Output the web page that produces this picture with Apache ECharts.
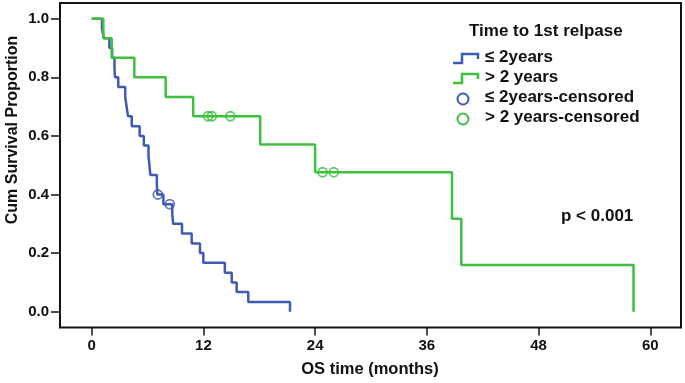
<!DOCTYPE html>
<html>
<head>
    <meta charset="utf-8">
    <title>OS by time to 1st relapse</title>
    <script src="https://cdn.jsdelivr.net/npm/echarts@6/dist/echarts.min.js"></script>
    <style>
        body, html { margin: 0; padding: 0; background: #fff; }
        #main { width: 685px; height: 383px; }
    </style>
</head>
<body>
    <div id="main"></div>
    <script>
        // Kaplan-Meier steps: time (months) and survival after each drop
        const blueTime = [0, 1.1, 1.3, 1.9, 2.2, 2.45, 2.5, 2.85, 3.6, 3.75, 3.9, 4.3, 5.15, 5.6, 6.1, 6.2, 6.3, 7.0, 7.05, 7.7, 8.65, 8.75, 9.7, 10.74, 11.63, 11.99, 14.3, 15.04, 15.57, 16.82, 21.3];
        const blueSurv = [1, 0.967, 0.933, 0.9, 0.867, 0.833, 0.8, 0.767, 0.733, 0.7, 0.667, 0.633, 0.6, 0.567, 0.533, 0.5, 0.467, 0.433, 0.4, 0.367, 0.333, 0.3, 0.267, 0.233, 0.2, 0.167, 0.133, 0.1, 0.067, 0.033, 0];
        const greenTime = [0, 1.25, 2.15, 4.58, 7.95, 10.9, 18.1, 24.0, 38.7, 39.7, 58.2];
        const greenSurv = [1, 0.933, 0.867, 0.8, 0.733, 0.667, 0.571, 0.476, 0.317, 0.159, 0];

        // censored observations
        const blueCensTime = [7.1, 8.38];
        const blueCensSurv = [0.4, 0.367];
        const greenCensTime = [12.5, 12.9, 14.9, 24.8, 26.0];
        const greenCensSurv = [0.667, 0.667, 0.667, 0.476, 0.476];

        const xTicks = [0, 12, 24, 36, 48, 60];
        const yTicks = [0, 0.2, 0.4, 0.6, 0.8, 1.0];
        const legendNames = ['\u2264 2years', '> 2 years', '\u2264 2years-censored', '> 2 years-censored'];

        const blue = '#3f5ab6';
        const green = '#3ec03e';
        const font = '"Liberation Sans", Arial, sans-serif';

        const zip = (a, b) => a.map((v, i) => [v, b[i]]);

        const chart = echarts.init(document.getElementById('main'));

        // hand-drawn legend (step icons like SPSS)
        const lx = 453, ly = 59, gap = 20;
        const legendGraphic = [
            { type: 'text', left: 469, top: 23,
              style: { text: 'Time to 1st relpase', font: 'bold 17px ' + font, fill: '#111' } },
            { type: 'polyline', shape: { points: [[lx, ly + 4], [lx + 9, ly + 4], [lx + 9, ly - 5], [lx + 25, ly - 5], [lx + 25, ly]] },
              style: { stroke: blue, lineWidth: 2.5, fill: null } },
            { type: 'polyline', shape: { points: [[lx, ly + gap + 4], [lx + 9, ly + gap + 4], [lx + 9, ly + gap - 5], [lx + 25, ly + gap - 5], [lx + 25, ly + gap]] },
              style: { stroke: green, lineWidth: 2.5, fill: null } },
            { type: 'circle', shape: { cx: lx + 10, cy: ly + 2 * gap, r: 5.5 },
              style: { stroke: blue, lineWidth: 2, fill: null } },
            { type: 'circle', shape: { cx: lx + 10, cy: ly + 3 * gap, r: 5.5 },
              style: { stroke: green, lineWidth: 2, fill: null } }
        ];
        legendNames.forEach((name, i) => {
            legendGraphic.push({
                type: 'text', left: 485, top: ly + i * gap - 10,
                style: { text: name, font: 'bold 17px ' + font, fill: '#111' }
            });
        });

        const option = {
            backgroundColor: '#fff',
            animation: false,
            grid: {
                left: 60, top: 3, width: 621, height: 324.5,
                show: true, borderColor: '#111', borderWidth: 2
            },
            xAxis: {
                type: 'value',
                min: -3.405, max: 63.3,
                splitLine: { show: false },
                axisLine: { show: false, onZero: false },
                axisTick: { show: true, length: 8, customValues: xTicks, lineStyle: { color: '#111', width: 1.5 } },
                axisLabel: {
                    customValues: xTicks, margin: 11,
                    color: '#111', fontWeight: 'bold', fontSize: 15, fontFamily: font
                }
            },
            yAxis: {
                type: 'value',
                min: -0.0539, max: 1.0536,
                splitLine: { show: false },
                axisLine: { show: false, onZero: false },
                axisTick: { show: true, length: 9, customValues: yTicks, lineStyle: { color: '#111', width: 1.5 } },
                axisLabel: {
                    customValues: yTicks, margin: 11,
                    formatter: v => v.toFixed(1),
                    color: '#111', fontWeight: 'bold', fontSize: 15, fontFamily: font
                }
            },
            graphic: legendGraphic.concat([
                { type: 'text', left: 561, top: 208,
                  style: { text: 'p < 0.001', font: 'bold 17px ' + font, fill: '#111' } },
                { type: 'text', x: 13, y: 130, rotation: Math.PI / 2,
                  style: { text: 'Cum Survival Proportion', font: 'bold 16px ' + font, fill: '#111',
                           align: 'center', verticalAlign: 'middle' } },
                { type: 'text', x: 370, y: 369,
                  style: { text: 'OS time (months)', font: 'bold 16.5px ' + font, fill: '#111',
                           align: 'center', verticalAlign: 'middle' } }
            ]),
            series: [
                {
                    name: legendNames[0], type: 'line', step: 'end', showSymbol: false,
                    data: zip(blueTime, blueSurv),
                    lineStyle: { color: blue, width: 2.5 }
                },
                {
                    name: legendNames[1], type: 'line', step: 'end', showSymbol: false,
                    data: zip(greenTime, greenSurv),
                    lineStyle: { color: green, width: 2.5 }
                },
                {
                    name: legendNames[2], type: 'scatter', symbol: 'circle', symbolSize: 9,
                    data: zip(blueCensTime, blueCensSurv),
                    itemStyle: { color: 'rgba(0,0,0,0)', borderColor: blue, borderWidth: 1.8 }
                },
                {
                    name: legendNames[3], type: 'scatter', symbol: 'circle', symbolSize: 9,
                    data: zip(greenCensTime, greenCensSurv),
                    itemStyle: { color: 'rgba(0,0,0,0)', borderColor: green, borderWidth: 1.8 }
                }
            ]
        };

        chart.setOption(option);
    </script>
</body>
</html>
